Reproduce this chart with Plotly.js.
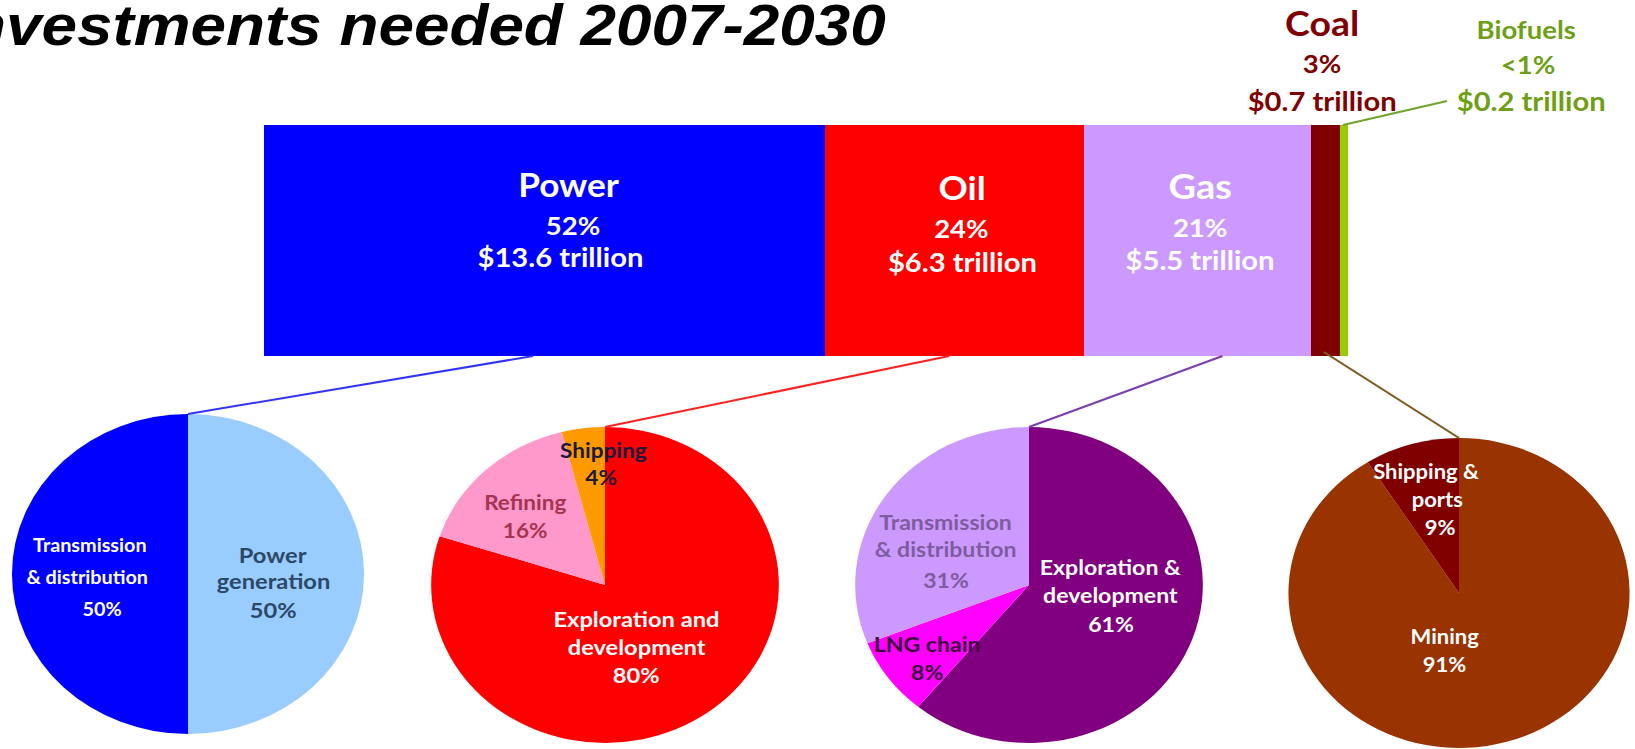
<!DOCTYPE html>
<html>
<head>
<meta charset="utf-8">
<script src="https://cdn.plot.ly/plotly-3.0.1.min.js"></script>
<style>
  html, body { margin: 0; padding: 0; overflow: hidden; background: #ffffff; }
  #chart { width: 1486px; height: 749px; transform: scaleX(1.10027); transform-origin: 0 0; }
</style>
</head>
<body>
<div id="chart"></div>
<script>
// ---------------- DATA ----------------
const sectors = ['Power', 'Oil', 'Gas', 'Coal', 'Biofuels'];
const sectorValues = [13.6, 6.3, 5.5, 0.7, 0.2];           // $ trillion
const sectorShares = ['52%', '24%', '21%', '3%', '<1%'];

const powerLabels = ['Power<br>generation', 'Transmission<br>& distribution'];
const powerShares = [50, 50];
const oilLabels = ['Exploration and<br>development', 'Refining', 'Shipping'];
const oilShares = [80, 16, 4];
const gasLabels = ['Exploration &<br>development', 'LNG chain', 'Transmission<br>& distribution'];
const gasShares = [61, 8, 31];
const coalLabels = ['Mining', 'Shipping &<br>ports'];
const coalShares = [91, 9];

const titleText = 'Investments needed 2007-2030';

// ---------------- STYLE / LAYOUT ----------------
const W = 1486, H = 749, SHOWN_W = 1635;
const FONT = 'Lato, "Open Sans", sans-serif';
const sectorColors = ['#0000FF', '#FF0000', '#CC99FF', '#800000', '#99CC00'];
const powerColors = ['#99CCFF', '#0000FF'];
const oilColors = ['#FF0000', '#FF99CC', '#FF9900'];
const gasColors = ['#800080', '#FF00FF', '#CC99FF'];
const coalColors = ['#993300', '#800000'];

const px = X => X / SHOWN_W;          // shown pixel -> paper x
const py = Y => 1 - Y / H;            // shown pixel -> paper y
const xDom = [px(264), px(1348)];
const yDom = [py(356), py(125)];
const total = sectorValues.reduce((a, b) => a + b, 0);

function pieDomain(X, Y, r) {
  return { x: [X / SHOWN_W - r / W, X / SHOWN_W + r / W], y: [(H - Y - r) / H, (H - Y + r) / H] };
}

const traces = [];
sectors.forEach((s, i) => {
  traces.push({
    type: 'bar', orientation: 'h', y: [0], x: [sectorValues[i]], name: s, width: 1,
    marker: { color: sectorColors[i], line: { width: 0 } },
    xaxis: 'x', yaxis: 'y', showlegend: false, hoverinfo: 'name+x'
  });
});

const pies = [
  { labels: powerLabels, values: powerShares, colors: powerColors, c: [188, 574, 160] },
  { labels: oilLabels, values: oilShares, colors: oilColors, c: [605, 585, 158] },
  { labels: gasLabels, values: gasShares, colors: gasColors, c: [1029, 585, 158] },
  { labels: coalLabels, values: coalShares, colors: coalColors, c: [1459, 593, 155] }
];
pies.forEach(p => {
  traces.push({
    type: 'pie', labels: p.labels, values: p.values, sort: false, direction: 'clockwise', rotation: 0,
    marker: { colors: p.colors, line: { width: 0 } }, textinfo: 'none', showlegend: false,
    domain: pieDomain(p.c[0], p.c[1], p.c[2]), hoverinfo: 'label+percent'
  });
});

// ---------------- ANNOTATIONS ----------------
const annotations = [];
function addText(X, Y, text, size, color) {
  annotations.push({
    xref: 'paper', yref: 'paper', x: px(X), y: py(Y), xanchor: 'center', yanchor: 'middle',
    text: text, showarrow: false, font: { family: FONT, size: size, color: color, weight: 'bold' }
  });
}
const pick = (v, j) => Array.isArray(v) ? v[j] : v;

const barLabelPos = [
  { x: [569, 573, 561], y: [185, 225, 257], sizes: [32, 25, 26.5], color: '#FFFFFF' },
  { x: 962, y: [187, 228, 262], sizes: [33, 25, 26.5], color: '#FFFFFF' },
  { x: 1200, y: [186, 227, 260], sizes: [34.5, 25, 26.5], color: '#FFFFFF' },
  { x: 1322, y: [22, 63, 101], sizes: [34, 25, 26.5], color: '#800000' },
  { x: [1526, 1528, 1531], y: [29, 64, 101], sizes: [25, 25, 26.5], color: '#6E9F14' }
];
sectors.forEach((s, i) => {
  const lines = [s, sectorShares[i], '$' + sectorValues[i].toFixed(1) + ' trillion'];
  const p = barLabelPos[i];
  lines.forEach((t, j) => addText(pick(p.x, j), p.y[j], t, p.sizes[j], p.color));
});

const pieLabelPos = [
  [ { x: 273, y: [555, 581, 610], color: '#2B4868', size: 21.5 }, { x: [90, 88, 102], y: [545, 577, 609], color: '#FFFFFF', size: 18 } ],
  [ { x: 637, y: [619, 647, 675], color: '#FFFFFF', size: 21.5 }, { x: 525, y: [502, 530], color: '#A8334E', size: 20.5 }, { x: [603, 601], y: [450, 477], color: '#1A1A40', size: 20.5 } ],
  [ { x: 1111, y: [566, 594, 623], color: '#FFFFFF', size: 21 }, { x: 927, y: [643, 671], color: '#3A0A3A', size: 21 }, { x: 946, y: [521, 548, 579], color: '#7E5C9E', size: 21 } ],
  [ { x: 1445, y: [636, 664], color: '#FFFFFF', size: 20 }, { x: [1426, 1438, 1440], y: [471, 499, 527], color: '#FFFFFF', size: 20 } ]
];
pies.forEach((p, k) => {
  p.labels.forEach((lab, i) => {
    const lines = lab.split('<br>').concat([p.values[i] + '%']);
    const pos = pieLabelPos[k][i];
    lines.forEach((t, j) => addText(pick(pos.x, j), pos.y[j], t, pos.size, pos.color));
  });
});

// ---------------- CONNECTORS ----------------
const cum = sectorValues.map((v, i) => sectorValues.slice(0, i).reduce((a, b) => a + b, 0));
const barX = (i, f) => xDom[0] + (cum[i] + f * sectorValues[i]) / total * (xDom[1] - xDom[0]);
const connectorFrac = [0.48, 0.48, 0.61, 0.45];
const connectorColors = ['#3333FF', '#FF2020', '#7A3FB0', '#7F5A1E'];
const shapes = [];
pies.forEach((p, k) => {
  shapes.push({
    type: 'line', xref: 'paper', yref: 'paper',
    x0: barX(k, connectorFrac[k]), y0: py(k === 3 ? 352 : 356),
    x1: px(p.c[0]), y1: py(p.c[1] - p.c[2]),
    line: { color: connectorColors[k], width: 2 }
  });
});
// biofuels call-out line
shapes.push({
  type: 'line', xref: 'paper', yref: 'paper',
  x0: barX(4, 0.4), y0: yDom[1], x1: px(1447), y1: py(101),
  line: { color: '#6FA52A', width: 2 }
});

const layout = {
  width: W, height: H,
  margin: { l: 0, r: 0, t: 0, b: 0, pad: 0 },
  paper_bgcolor: '#FFFFFF', plot_bgcolor: 'rgba(0,0,0,0)',
  barmode: 'stack', bargap: 0,
  showlegend: false,
  title: {
    text: titleText, xref: 'container', yref: 'container',
    x: 805 / W, xanchor: 'right', y: 1 - 25 / H, yanchor: 'middle',
    font: { family: '"Liberation Sans", Arial, sans-serif', size: 58, color: '#000000', weight: 'bold', style: 'italic' }
  },
  xaxis: { domain: xDom, range: [0, total], visible: false, fixedrange: true },
  yaxis: { domain: yDom, range: [-0.5, 0.5], visible: false, fixedrange: true },
  annotations: annotations,
  shapes: shapes
};

Plotly.newPlot('chart', traces, layout, { displayModeBar: false, staticPlot: true, responsive: false });
</script>
</body>
</html>
